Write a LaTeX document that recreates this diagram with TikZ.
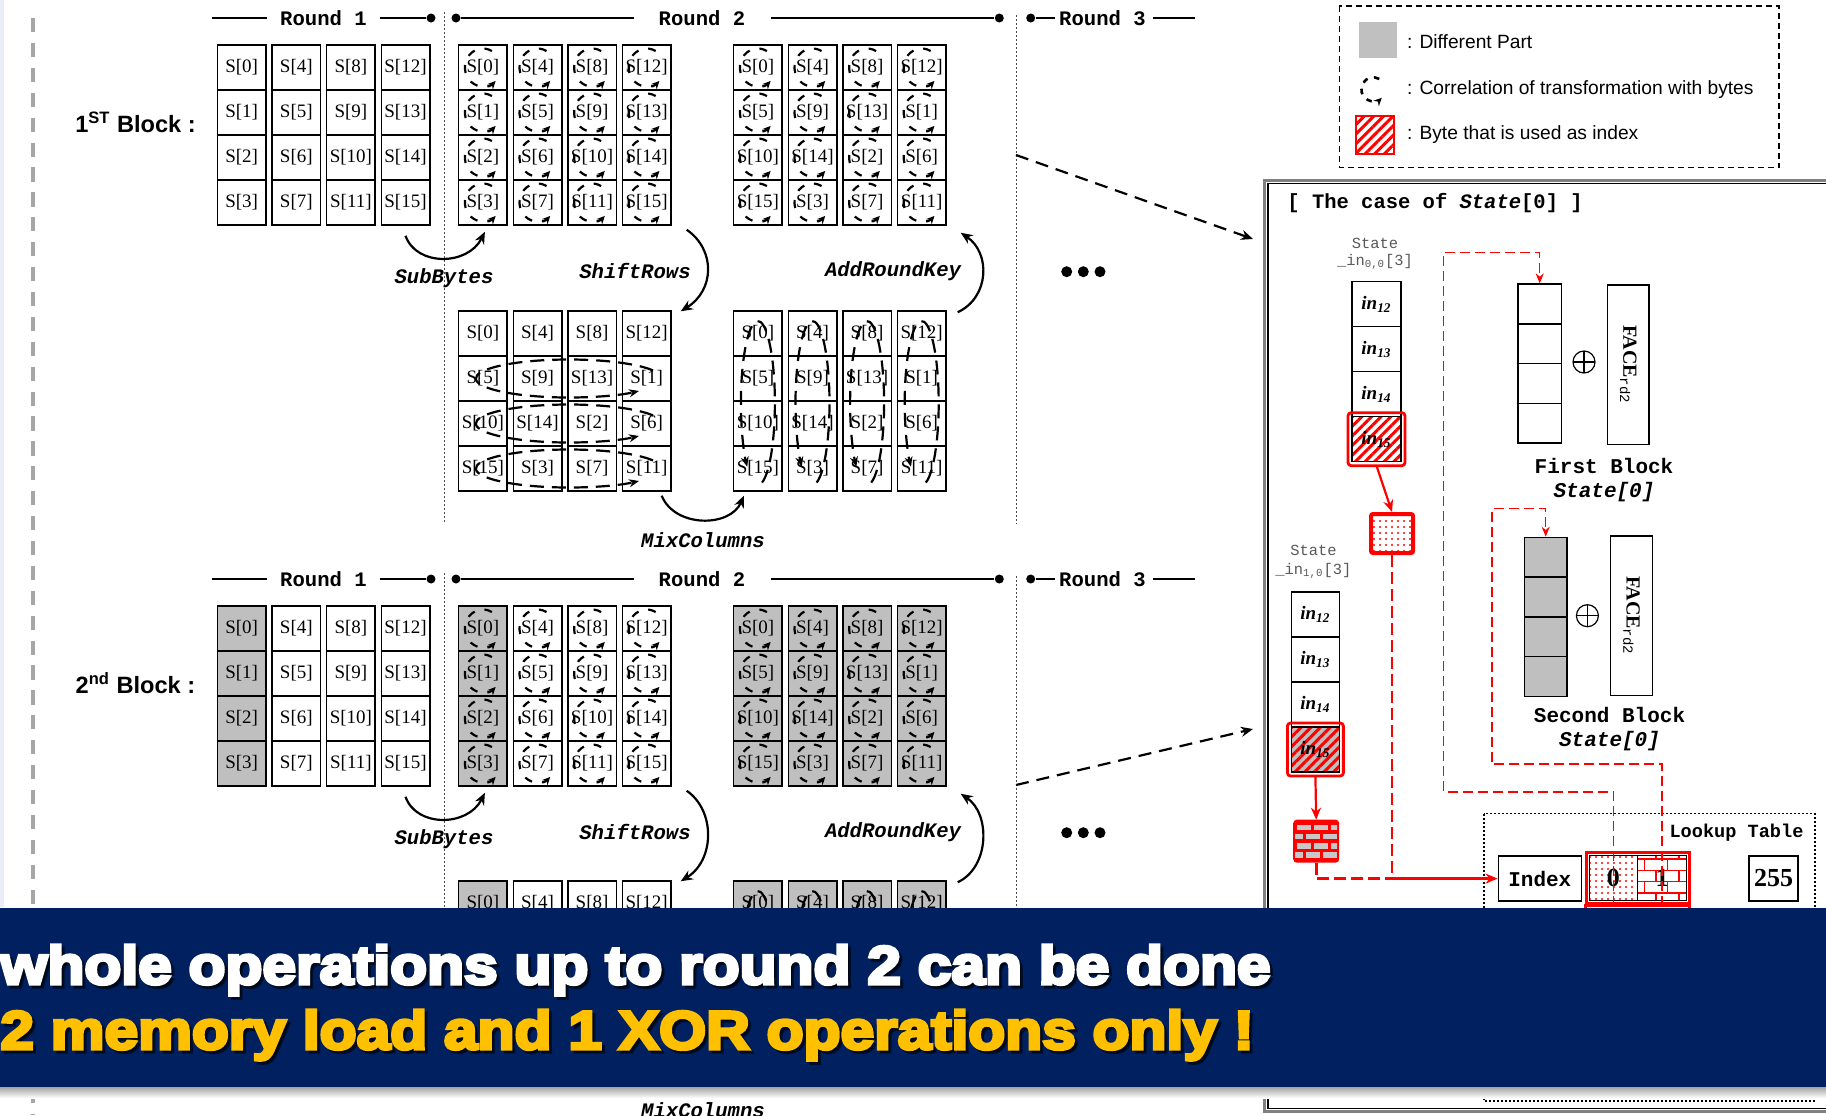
\documentclass[tikz,border=0pt]{standalone}
\usepackage{fontspec}
\setmainfont{Liberation Serif}
\setsansfont{Liberation Sans}
\setmonofont{Liberation Mono}
\newfontfamily\bannerfont{Liberation Sans Bold}[FakeStretch=1.12,FakeBold=6]
\usetikzlibrary{arrows.meta,calc,patterns,patterns.meta}
\definecolor{cellgray}{HTML}{BFBFBF}
\definecolor{legendgray}{HTML}{C0C0C0}
\definecolor{navyband}{HTML}{002060}
\definecolor{goldtext}{HTML}{FFC000}
\definecolor{sidegray}{HTML}{A6A6A6}
\definecolor{stripbg}{HTML}{E8EDF7}
\definecolor{panelgray}{HTML}{808080}
\definecolor{brickgray}{HTML}{C8C8C8}

\newcommand\inlbl[1]{\bfseries\itshape in\textsubscript{#1}}

\tikzset{
 bcell/.style={draw, line width=0.75pt, minimum width=24.25pt, minimum height=22.5pt, inner sep=0pt, font=\fontsize{9.5}{10}\selectfont},
 byteicon/.style={line width=1.1pt, dash pattern=on 4pt off 5pt, -{Stealth[length=4pt,width=3.8pt]}},
 rowloop/.style={line width=1.1pt, dash pattern=on 7pt off 4pt, -{Stealth[length=5pt,width=4pt]}},
 oparrow/.style={line width=1.1pt, -{Stealth[length=6pt,width=5pt]}},
 hdrline/.style={line width=1pt},
 kdot/.style={circle, fill=black, inner sep=0pt, minimum size=4.5pt},
 rndlbl/.style={inner sep=0pt, font=\ttfamily\bfseries\fontsize{10.3}{12}\selectfont},
 oplbl/.style={inner sep=0pt, font=\ttfamily\bfseries\itshape\fontsize{10.3}{12}\selectfont},
 vdotline/.style={line width=0.5pt, dash pattern=on 1pt off 1pt, draw=black!70},
 bigdash/.style={line width=1.1pt, dash pattern=on 6.5pt off 4pt, -{Stealth[length=6pt,width=5pt]}},
 ellipdot/.style={circle, fill=black, inner sep=0pt, minimum size=5.5pt},
 blklbl/.style={inner sep=0pt, font=\sffamily\bfseries\fontsize{11.8}{14}\selectfont},
 legtxt/.style={inner sep=0pt, anchor=west, font=\sffamily\fontsize{9.6}{11}\selectfont},
 pcell/.style={draw, line width=0.75pt, minimum width=24.5pt, minimum height=22.5pt, inner sep=0pt, font=\fontsize{9.5}{11}\selectfont},
 smcell/.style={draw, line width=0.75pt, minimum height=19.85pt, inner sep=0pt},
 graylbl/.style={inner sep=0pt, text=black!65, font=\ttfamily\fontsize{7.7}{9}\selectfont},
 pbold/.style={inner sep=0pt, font=\ttfamily\bfseries\fontsize{10.5}{12}\selectfont},
 pboldit/.style={inner sep=0pt, font=\ttfamily\bfseries\itshape\fontsize{10.5}{12}\selectfont},
 facebox/.style={draw, line width=0.75pt, minimum width=20.85pt, minimum height=79.65pt, inner sep=0pt},
 facetxt/.style={rotate=-90, inner sep=0pt, font=\fontsize{10}{11}\selectfont},
 xorsym/.style={circle, draw, line width=0.6pt, minimum size=11pt, inner sep=0pt,
   path picture={\draw[line width=0.6pt] (path picture bounding box.north) -- (path picture bounding box.south)
     (path picture bounding box.west) -- (path picture bounding box.east);}},
 lcell/.style={draw, line width=0.75pt, minimum height=22.6pt, inner sep=0pt, font=\bfseries\fontsize{13}{14}\selectfont},
 redthin/.style={draw=red, line width=0.7pt, dash pattern=on 5pt off 2.5pt},
 redthick/.style={draw=red, line width=1.3pt, dash pattern=on 6pt off 2.5pt},
 redsolid/.style={draw=red, line width=1.1pt, -{Stealth[length=6pt,width=5pt]}},
 hatchred/.style={pattern={Lines[angle=45,distance=3.4pt,line width=1.5pt]}, pattern color=red},
 dotred/.style={pattern={Dots[distance=3pt,radius=0.55pt]}, pattern color=red},
 bannertxt/.style={inner sep=0pt, anchor=base west, font=\bannerfont\fontsize{27}{30}\selectfont},
}

\newcommand\aesblock[5]{%
 \node[blklbl] (blk#1) at (135.5,{122+#2}) {#5};
 % round header
 \draw[hdrline] (212,{18+#2}) -- (267,{18+#2});
 \node[rndlbl] (rA#1) at (323.5,{18+#2}) {Round 1};
 \node[kdot] (kA#1) at (431,{18+#2}) {};
 \draw[hdrline] (379.5,{18+#2}) -- (kA#1);
 \node[kdot] (kB#1) at (456,{18+#2}) {};
 \draw[hdrline] (kB#1) -- (634,{18+#2});
 \node[rndlbl] (rB#1) at (702,{18+#2}) {Round 2};
 \node[kdot] (kC#1) at (999.3,{18+#2}) {};
 \draw[hdrline] (771,{18+#2}) -- (kC#1);
 \node[kdot] (kD#1) at (1030.7,{18+#2}) {};
 \draw[hdrline] (kD#1) -- (1055,{18+#2});
 \node[rndlbl] (rC#1) at (1102.5,{18+#2}) {Round 3};
 \draw[hdrline] (1153,{18+#2}) -- (1195,{18+#2});
 % dotted separators
 \draw[vdotline] (444,{12+#2}) -- (444,{522+#2});
 \draw[vdotline] (1016,{15+#2}) -- (1016,{524+#2});
 % grids
 \foreach \c in {0,...,3}{%
  \foreach \r in {0,...,3}{%
   \pgfmathtruncatemacro\idx{4*\c+\r}%
   \pgfmathtruncatemacro\sdx{4*mod(\c+\r,4)+\r}%
   \ifnum#4=1 \ifnum\c=0 \def\fa{cellgray}\else\def\fa{white}\fi\def\fb{cellgray}\ifnum\sdx<4\relax\def\fd{cellgray}\else\def\fd{white}\fi
     \ifnum\r>0\relax\def\dtxt{}\else\def\dtxt{S[\sdx]}\fi
   \else\def\fa{white}\def\fb{white}\def\fd{white}\def\dtxt{S[\sdx]}\fi
   \node[bcell, fill=\fa] (A#1-\r-\c) at ({241.7+54.6*\c},{67.5+45*\r+#2}) {S[\idx]};
   \node[bcell, fill=\fa] (B#1-\r-\c) at ({482.9+54.6*\c},{67.5+45*\r+#2}) {S[\idx]};
   \node[bcell, fill=\fb] (C#1-\r-\c) at ({757.9+54.6*\c},{67.5+45*\r+#2}) {S[\sdx]};
   \node[bcell, fill=\fd] (D#1-\r-\c) at ({482.9+54.6*\c},{333.5+45*\r+#3}) {\dtxt};
   \node[bcell, fill=\fb] (E#1-\r-\c) at ({757.9+54.6*\c},{333.5+45*\r+#3}) {\dtxt};
   \draw[byteicon] ([shift={(60:9pt and 9.5pt)}]B#1-\r-\c.center) arc[start angle=60,end angle=315,x radius=9pt,y radius=9.5pt];
   \draw[byteicon] ([shift={(60:9pt and 9.5pt)}]C#1-\r-\c.center) arc[start angle=60,end angle=315,x radius=9pt,y radius=9.5pt];
  }}
 \foreach \r in {1,2,3}{%
   \coordinate (DL#1-\r) at ($(D#1-\r-0.center)!0.5!(D#1-\r-3.center)+(2pt,0pt)$);
   \draw[rowloop] ([shift={(25:46.5pt and 9.5pt)}]DL#1-\r) arc[start angle=25,end angle=319,x radius=46.5pt,y radius=9.5pt];
 }
 \foreach \c in {0,...,3}{%
   \coordinate (EL#1-\c) at ($(E#1-1-\c.center)!0.5!(E#1-2-\c.center)+(0pt,-1pt)$);
   \draw[rowloop] ([shift={(-76:8.5pt and 41pt)}]EL#1-\c) arc[start angle=-76,end angle=231,x radius=8.5pt,y radius=41pt];
 }
 % operation arrows
 \draw[oparrow] ([yshift=-5pt]A#1-3-3.south) .. controls +(5.5pt,-15.5pt) and +(-8.5pt,-17pt) .. ([xshift=1pt,yshift=-3pt]B#1-3-0.south);
 \node[oplbl] (sub#1) at (444,{278+#2}) {SubBytes};
 \draw[oparrow] ([xshift=7.5pt,yshift=-2pt]B#1-3-3.south east) .. controls +(14.5pt,-10pt) and +(17pt,10.5pt) .. ([xshift=4.5pt,yshift=-0.5pt]D#1-0-3.north east);
 \node[oplbl] (shr#1) at (635,{271+#2}) {ShiftRows};
 \draw[oparrow] ([xshift=5.5pt,yshift=-1pt]E#1-0-3.north east) .. controls +(16pt,7.5pt) and +(15pt,-10pt) .. ([xshift=7pt,yshift=-3.5pt]C#1-3-3.south east);
 \node[oplbl] (ark#1) at (893,{271+#2}) {AddRoundKey};
 \draw[oparrow] ([xshift=7.5pt,yshift=-2pt]D#1-3-3.south) .. controls +(6.5pt,-16pt) and +(-7pt,-16pt) .. ([xshift=-7pt,yshift=-2pt]E#1-3-0.south);
 \node[oplbl] (mix#1) at (703,{540+#3}) {MixColumns};
 % ellipsis
 \node[ellipdot] (el#1a) at (1066.7,{271.7+#2}) {};
 \node[ellipdot] (el#1b) at (1083.3,{271.7+#2}) {};
 \node[ellipdot] (el#1c) at (1100,{271.7+#2}) {};
}

\begin{document}
\begin{tikzpicture}[x=0.5pt,y=-0.5pt]
\useasboundingbox (0,0) rectangle (1826,1115);
\fill[white] (0,0) rectangle (1826,1115);
\fill[stripbg] (0,0) rectangle (4,907);
\draw[sidegray, line width=2pt, dash pattern=on 7.1pt off 5.35pt] (32.7,18) -- (32.7,1115);

\aesblock{1}{0}{0}{0}{1\textsuperscript{ST} Block :}
\aesblock{2}{561}{570}{1}{2\textsuperscript{nd} Block :}

% big dashed arrows to panel
\coordinate (da1) at (1016,155);
\coordinate (db1) at (1253,239);
\coordinate (da2) at (1016,785);
\coordinate (db2) at (1253,729);
\draw[bigdash] (da1) -- (db1);
\draw[bigdash] (da2) -- (db2);

% legend
\draw[line width=0.6pt, dash pattern=on 3pt off 2pt] (1339.3,6) rectangle (1779,167.7);
\node[fill=legendgray, minimum width=18.85pt, minimum height=18pt, inner sep=0pt] (lg1) at (1377.8,40.3) {};
\node[legtxt] (lt1) at (1406.7,41.7) {: Different Part};
\coordinate (lg2) at (1373.3,89.3);
\draw[byteicon, line width=1.3pt, dash pattern=on 2.8pt off 3.3pt] ([shift={(60:6pt)}]lg2) arc[start angle=60,end angle=315,radius=6pt];
\node[legtxt] (lt2) at (1406.7,89.3) {: Correlation of transformation with bytes};
\node[draw=red, line width=1pt, minimum size=19.3pt, inner sep=0pt, preaction={fill=white}, hatchred] (lg3) at (1375,135) {};
\node[legtxt] (lt3) at (1406.7,135) {: Byte that is used as index};

% right panel frame
\fill[white] (1264.7,180.5) rectangle (1830,1111.5);
\draw[panelgray, line width=1.5pt] (1264.7,180.5) rectangle (1832,1111.5);
\draw[line width=0.6pt] (1268,183.6) rectangle (1832,1108.4);
\node[anchor=west, inner sep=0pt, font=\ttfamily\bfseries\fontsize{10.25}{12}\selectfont] (ttl) at (1287,203) {[ The case of \textit{State}[0] ]};

% State_in 0,0 column
\node[graylbl] (s1a) at (1375,243) {State};
\node[graylbl] (s1b) at (1375,262) {\_in\textsubscript{0,0}[3]};
\node[pcell] (in1-0) at (1376.5,304.2) {\inlbl{12}};
\node[pcell] (in1-1) at (1376.5,349.2) {\inlbl{13}};
\node[pcell] (in1-2) at (1376.5,394.2) {\inlbl{14}};
\node[pcell, preaction={fill=white}, hatchred] (in1-3) at (1376.5,439.2) {\inlbl{15}};
\draw[red, line width=1.4pt, rounded corners=1.5pt] ([shift={(-1.6pt,1.6pt)}]in1-3.north west) rectangle ([shift={(1.6pt,-1.6pt)}]in1-3.south east);

% State_in 1,0 column
\node[graylbl] (s2a) at (1313.4,550) {State};
\node[graylbl] (s2b) at (1313.4,570.6) {\_in\textsubscript{1,0}[3]};
\node[pcell, minimum width=24pt] (in2-0) at (1315.4,614.5) {\inlbl{12}};
\node[pcell, minimum width=24pt] (in2-1) at (1315.4,659.5) {\inlbl{13}};
\node[pcell, minimum width=24pt] (in2-2) at (1315.4,704.5) {\inlbl{14}};
\node[pcell, minimum width=24pt, preaction={fill=cellgray}, hatchred] (in2-3) at (1315.4,749.5) {\inlbl{15}};
\draw[red, line width=1.4pt, rounded corners=1.5pt] ([shift={(-1.6pt,1.6pt)}]in2-3.north west) rectangle ([shift={(1.6pt,-1.6pt)}]in2-3.south east);

% dotted index byte box and brick box
\node[draw=red, line width=2pt, rounded corners=1pt, minimum width=21pt, minimum height=19.5pt, inner sep=0pt, preaction={fill=white}, dotred] (dotb) at (1392,533.5) {};
\node[draw=red, fill=red, line width=2pt, rounded corners=1pt, minimum width=21pt, minimum height=19.5pt, inner sep=0pt] (brk) at (1316.2,841.2) {};
\begin{scope}
\clip ([shift={(1pt,-1pt)}]brk.north west) rectangle ([shift={(-1pt,1pt)}]brk.south east);
\foreach \k in {0,...,3}{\foreach \j in {-1,...,3}{
  \fill[brickgray] ({1297+17*\j+8.5*mod(\k,2)},{824.5+9.2*\k}) rectangle ++(14,5.6);
}}
\end{scope}
\draw[redsolid] ([yshift=-1.6pt]in1-3.south) -- (dotb.north);
\draw[redsolid] ([yshift=-1.6pt]in2-3.south) -- (brk.north);

% First block
\node[smcell, minimum width=21.7pt] (FB-0) at (1539.7,304) {};
\node[smcell, minimum width=21.7pt] (FB-1) at (1539.7,343.7) {};
\node[smcell, minimum width=21.7pt] (FB-2) at (1539.7,383.4) {};
\node[smcell, minimum width=21.7pt] (FB-3) at (1539.7,423.1) {};
\node[xorsym] (x1) at (1584,362) {};
\node[facebox] (F1) at (1628.2,364.6) {};
\node[facetxt] (F1t) at (F1.center) {\textbf{FACE}\textsubscript{\ttfamily rd2}};
\node[pbold] (fbl) at (1604,466) {First Block};
\node[pboldit] (fbs) at (1604,492) {State[0]};

% Second block
\node[smcell, minimum width=21.35pt, fill=cellgray] (SB-0) at (1545.7,557.3) {};
\node[smcell, minimum width=21.35pt, fill=cellgray] (SB-1) at (1545.7,597) {};
\node[smcell, minimum width=21.35pt, fill=cellgray] (SB-2) at (1545.7,636.7) {};
\node[smcell, minimum width=21.35pt, fill=cellgray] (SB-3) at (1545.7,676.4) {};
\node[xorsym] (x2) at (1587.4,615.7) {};
\node[facebox] (F2) at (1631.4,615.6) {};
\node[facetxt] (F2t) at (F2.center) {\textbf{FACE}\textsubscript{\ttfamily rd2}};
\node[pbold] (sbl) at (1609.5,715) {Second Block};
\node[pboldit] (sbs) at (1609.5,741) {State[0]};

% lookup table
\draw[line width=0.7pt, dash pattern=on 1pt off 1pt] (1483.8,813.7) rectangle (1814.9,1100.8);
\node[inner sep=0pt, font=\ttfamily\bfseries\fontsize{9.3}{11}\selectfont] (ltt) at (1736.5,832.5) {Lookup Table};
\node[lcell, minimum width=41.5pt, font=\ttfamily\bfseries\fontsize{10.5}{12}\selectfont] (idx) at (1539.8,878.6) {Index};
\node[lcell, minimum width=24pt, preaction={fill=white}, dotred] (lt0) at (1613.25,878) {0};
\node[lcell, minimum width=24.7pt, preaction={fill=white}, pattern=bricks, pattern color=red] (lt1) at (1662,878) {1};
\draw[red, line width=1.4pt] ([shift={(-1.2pt,1.2pt)}]lt0.north west) rectangle ([shift={(1.2pt,-1.2pt)}]lt1.south east);
\node[lcell, minimum width=24.5pt] (lt255) at (1773.5,878.5) {255};
\node[draw, line width=0.75pt, minimum width=41.5pt, minimum height=90pt, anchor=north, inner sep=0pt] (idx2) at (1539.8,908) {};
\node[draw, line width=0.75pt, minimum width=48.7pt, minimum height=90pt, anchor=north, inner sep=0pt] (ltv2) at (1637.6,908) {};
\draw[red, line width=1.4pt] ([shift={(-1.2pt,1.2pt)}]ltv2.north west) rectangle ([shift={(1.2pt,-1.2pt)}]ltv2.south east);
\node[draw, line width=0.75pt, minimum width=24.5pt, minimum height=90pt, anchor=north, inner sep=0pt] (lt2552) at (1773.5,908) {};

% red connector lines
\draw[redthin, -{Stealth[length=5pt,width=4pt]}] ([yshift=-10pt]lt0.south) -- (1613.25,792) -- (1443.4,792) -- (1443.4,252.7) -- (1539.7,252.7) -- (FB-0.north);
\draw[redthin, -{Stealth[length=5pt,width=4pt]}] ([yshift=-10pt]lt1.south) -- (1662,764) -- (1491.8,764) -- (1491.8,508.6) -- (1545.7,508.6) -- (SB-0.north);
\coordinate (jn) at (1392,878.6);
\draw[redthick] (dotb.south) -- (jn);
\draw[redthick] (brk.south) |- (jn);
\draw[redsolid, line width=1.3pt] (jn) -- (idx.west);

% banner
\fill[navyband] (0,907.5) rectangle (1826,1087.3);
\shade[top color=black!35, bottom color=white] (0,1087.3) rectangle (1826,1098);
\node[bannertxt, text=black, opacity=0.55] (bs1) at (3,987) {whole operations up to round 2 can be done};
\node[bannertxt, text=white] (bn1) at (0,984) {whole operations up to round 2 can be done};
\node[bannertxt, text=black, opacity=0.55] (bs2) at (3,1052) {2 memory load and 1 XOR operations only !};
\node[bannertxt, text=goldtext] (bn2) at (0,1049) {2 memory load and 1 XOR operations only !};
\end{tikzpicture}
\end{document}
